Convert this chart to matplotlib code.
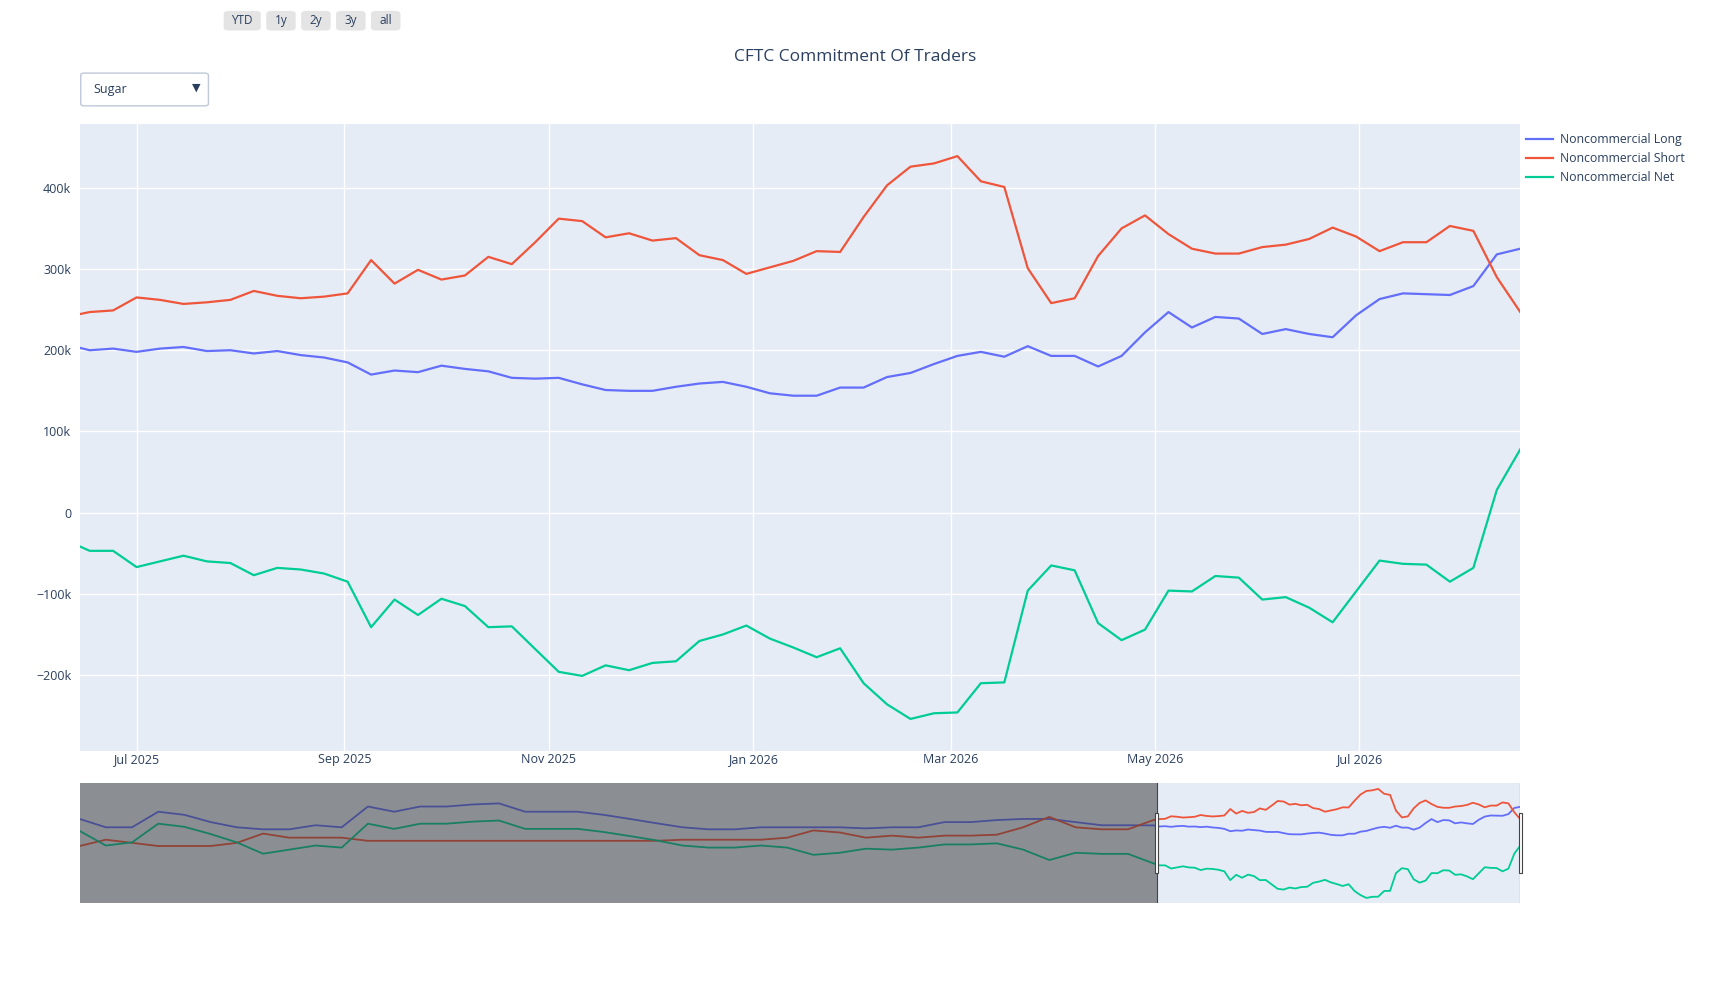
import numpy as np
import pandas as pd
import matplotlib.pyplot as plt
import matplotlib.dates as mdates
from matplotlib.patches import FancyBboxPatch, Rectangle
from matplotlib.ticker import FuncFormatter

# weekly report data shown in the main window (thousands of contracts)
long_recent = [207, 200, 202, 198, 202, 204, 199, 200, 196, 199, 194, 191, 185, 170, 175, 173,
               181, 177, 174, 166, 165, 166, 158, 151, 150, 150, 155, 159, 161, 155, 147, 144,
               144, 154, 154, 167, 172, 183, 193, 198, 192, 205, 193, 193, 180, 193, 222, 247,
               228, 241, 239, 220, 226, 220, 216, 243, 263, 270, 269, 268, 279, 318, 325]
short_recent = [241, 247, 249, 265, 262, 257, 259, 262, 273, 267, 264, 266, 270, 311, 282, 299,
                287, 292, 315, 306, 333, 362, 359, 339, 344, 335, 338, 317, 311, 294, 302, 310,
                322, 321, 364, 403, 426, 430, 439, 408, 401, 301, 258, 264, 316, 350, 366, 343,
                325, 319, 319, 327, 330, 337, 351, 340, 322, 333, 333, 353, 347, 290, 247]

# older history (roughly monthly, read from the range slider)
long_hist = [248, 195, 195, 294, 274, 228, 195, 182, 182, 208, 195, 327, 294, 327, 327, 340,
             347, 294, 294, 294, 274, 248, 221, 195, 182, 182, 195, 195, 195, 195, 188, 195,
             195, 228, 228, 241, 248, 248, 228, 208, 208]
short_hist = [76, 116, 96, 76, 76, 76, 96, 155, 129, 129, 129, 109, 109, 109, 109, 109,
              109, 109, 109, 109, 109, 109, 109, 116, 116, 116, 116, 129, 175, 162, 129, 142,
              129, 142, 142, 148, 195, 261, 195, 182, 182]

dates_recent = pd.date_range('2025-06-10', periods=len(long_recent), freq='7D')
dates_hist = pd.date_range(end='2025-05-11', periods=len(long_hist), freq='31D')

long_recent = np.array(long_recent) * 1000
short_recent = np.array(short_recent) * 1000
net_recent = long_recent - short_recent
long_all = np.concatenate([np.array(long_hist) * 1000, long_recent])
short_all = np.concatenate([np.array(short_hist) * 1000, short_recent])
net_all = long_all - short_all
dates_all = dates_hist.append(dates_recent)

C_LONG = '#636efa'
C_SHORT = '#ef553b'
C_NET = '#00cc96'
TXT = '#2a3f5f'
BG = '#e5ecf6'

plt.rcParams['font.family'] = ['Open Sans', 'DejaVu Sans']

fig = plt.figure(figsize=(17.12, 9.83), dpi=100)
ax = fig.add_axes([0.0465, 0.2364, 0.8415, 0.637])
ax.set_facecolor(BG)
for s in ax.spines.values():
    s.set_visible(False)
ax.plot(dates_recent, long_recent, color=C_LONG, lw=1.6, label='Noncommercial Long')
ax.plot(dates_recent, short_recent, color=C_SHORT, lw=1.6, label='Noncommercial Short')
ax.plot(dates_recent, net_recent, color=C_NET, lw=1.6, label='Noncommercial Net')
x0 = pd.Timestamp('2025-06-14')
x1 = pd.Timestamp('2026-08-18')
ax.set_xlim(x0, x1)
ax.set_ylim(-293000, 478000)
ax.set_yticks([-200000, -100000, 0, 100000, 200000, 300000, 400000])
ax.yaxis.set_major_formatter(FuncFormatter(
    lambda v, p: '0' if v == 0 else ('\u2212' if v < 0 else '') + '%dk' % abs(v / 1000)))
ax.xaxis.set_major_locator(mdates.MonthLocator(bymonth=[1, 3, 5, 7, 9, 11]))
ax.xaxis.set_major_formatter(mdates.DateFormatter('%b %Y'))
ax.grid(color='white', lw=1)
ax.set_axisbelow(True)
ax.tick_params(length=0, labelsize=9, colors=TXT, pad=6)
ax.tick_params(axis='x', pad=2)
leg = ax.legend(loc='upper left', bbox_to_anchor=(0.998, 1.0), frameon=False,
                fontsize=8.8, labelcolor=TXT, handlelength=2.2, borderaxespad=0.3,
                labelspacing=0.5, handletextpad=0.6)

# range slider
rs = fig.add_axes([0.0465, 0.081, 0.8415, 0.122])
rs.set_facecolor(BG)
rs.plot(dates_all, long_all, color=C_LONG, lw=1.3)
rs.plot(dates_all, short_all, color=C_SHORT, lw=1.3)
rs.plot(dates_all, net_all, color=C_NET, lw=1.3)
rs.set_xlim(dates_all[0], x1)
lo = min(net_all.min(), long_all.min())
hi = max(short_all.max(), long_all.max())
pad = (hi - lo) * 0.05
rs.set_ylim(lo - pad, hi + pad)
rs.set_xticks([])
rs.set_yticks([])
for s in rs.spines.values():
    s.set_visible(False)
rs.axvspan(dates_all[0], x0, color='#333333', alpha=0.5, lw=0, zorder=5)
for xx in (x0, x1):
    rs.axvline(xx, color='#444444', lw=0.8, zorder=6)
    xn = mdates.date2num(xx)
    rs.add_patch(Rectangle((xn - 1.5, 0.25), 3, 0.5, transform=rs.get_xaxis_transform(),
                           facecolor='white', edgecolor='#444444', lw=0.8, zorder=7,
                           clip_on=False))

fig.text(0.4997, 0.942, 'CFTC Commitment Of Traders', ha='center', va='center',
         fontsize=12.5, color=TXT)

# range selector buttons
btns = [('YTD', 205, 239), ('1y', 244, 271), ('2y', 276, 303), ('3y', 308, 335), ('all', 340, 367)]
W, H = 1569.0, 901.0
for lab, a, b in btns:
    fig.patches.append(FancyBboxPatch((a / W, 1 - 28 / H), (b - a) / W, 18 / H,
                                      boxstyle='round,pad=0,rounding_size=0.003',
                                      transform=fig.transFigure, facecolor='#e4e4e4',
                                      edgecolor='none'))
    fig.text((a + b) / 2 / W, 1 - 19 / H, lab, ha='center', va='center', fontsize=8.5, color=TXT)

# dropdown
fig.patches.append(FancyBboxPatch((74 / W, 1 - 97 / H), 117 / W, 30 / H,
                                  boxstyle='round,pad=0,rounding_size=0.002',
                                  transform=fig.transFigure, facecolor='white',
                                  edgecolor='#bec8d9', lw=1))
fig.text(86 / W, 1 - 82 / H, 'Sugar', ha='left', va='center', fontsize=9, color=TXT)
fig.text(180 / W, 1 - 81 / H, '\u25BC', ha='center', va='center', fontsize=8, color=TXT)

fig.savefig('out.png', dpi=100, facecolor='white')
